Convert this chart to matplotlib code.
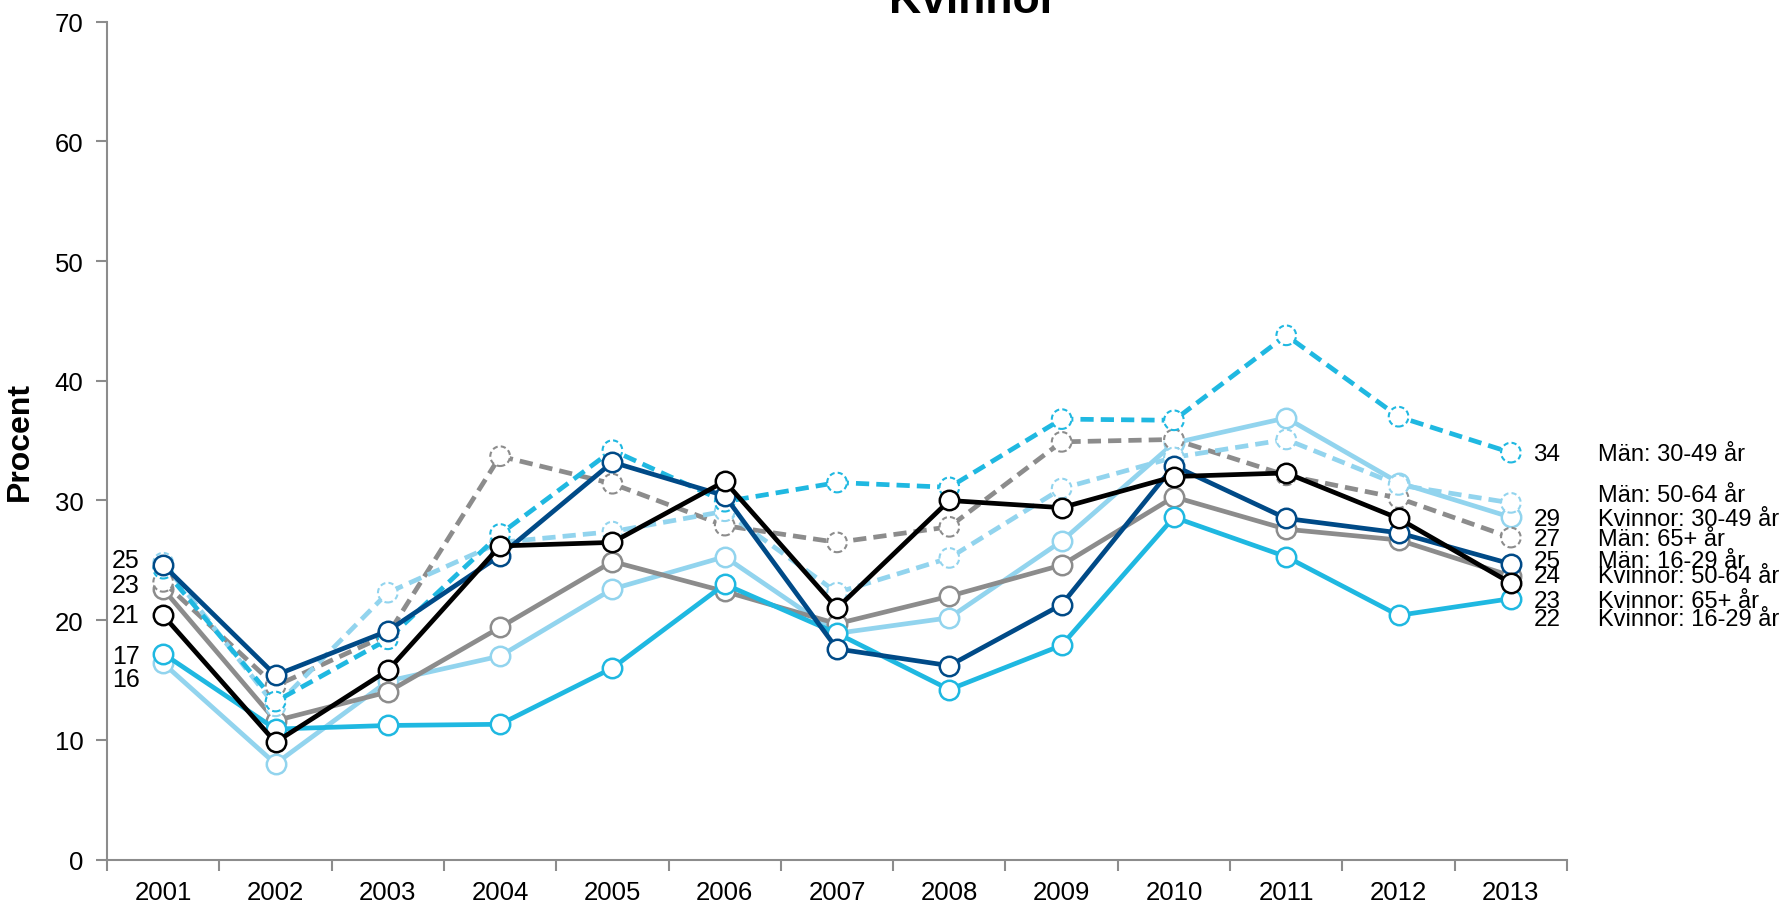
import matplotlib
matplotlib.use("Agg")
import matplotlib.pyplot as plt
import numpy as np

plt.rcParams['font.family'] = ['Liberation Sans', 'DejaVu Sans']

years = ["2001", "2002", "2003", "2004", "2005", "2006", "2007",
         "2008", "2009", "2010", "2011", "2012", "2013"]

# Män (dashed apart from 16-29)
man_16_29 = [24.6, 15.4, 19.1, 25.4, 33.2, 30.4, 17.6, 16.2, 21.3, 32.9, 28.5, 27.3, 24.7]
man_30_49 = [24.3, 13.2, 18.4, 27.2, 34.2, 29.9, 31.5, 31.1, 36.8, 36.7, 43.8, 37.0, 34.0]
man_50_64 = [24.8, 12.8, 22.3, 26.5, 27.4, 29.1, 22.3, 25.2, 31.0, 33.6, 35.1, 31.3, 29.8]
man_65 = [23.2, 14.5, 18.8, 33.7, 31.4, 27.9, 26.5, 27.8, 34.9, 35.1, 32.1, 30.2, 26.9]

# Kvinnor
kv_16_29 = [17.2, 10.9, 11.2, 11.3, 16.0, 23.0, 18.9, 14.2, 17.9, 28.6, 25.3, 20.4, 21.8]
kv_30_49 = [16.4, 8.0, 14.9, 17.0, 22.6, 25.3, 18.9, 20.2, 26.6, 34.8, 36.9, 31.5, 28.6]
kv_50_64 = [22.6, 11.6, 14.0, 19.4, 24.9, 22.4, 19.7, 22.0, 24.6, 30.3, 27.6, 26.7, 23.7]
kv_65 = [20.4, 9.8, 15.8, 26.2, 26.5, 31.6, 21.0, 30.0, 29.4, 32.0, 32.3, 28.5, 23.1]

left_values = ["25", "23", "21", "17", "16"]
right_values = ["34", "", "29", "27", "25", "24", "23", "22"]
right_names = ["Män: 30-49 år", "Män: 50-64 år", "Kvinnor: 30-49 år", "Män: 65+ år",
               "Män: 16-29 år", "Kvinnor: 50-64 år", "Kvinnor: 65+ år", "Kvinnor: 16-29 år"]

DARK = "#004A87"
MED = "#1FB8E1"
LIGHT = "#92D4EE"
GRAY = "#8C8C8C"
BLACK = "#000000"

fig = plt.figure(figsize=(17.87, 9.04), dpi=100)
ax = fig.add_axes([0.0599, 0.0481, 0.8170, 0.9267])
x = np.arange(len(years))

LW = 3.4
solid = [(kv_30_49, LIGHT), (kv_50_64, GRAY), (kv_16_29, MED)]
for vals, col in solid:
    ax.plot(x, vals, color=col, lw=LW, marker='o', ms=14, mfc='white', mec=col, mew=1.8, zorder=2)

dashed = [(man_65, GRAY), (man_50_64, LIGHT), (man_30_49, MED)]
for vals, col in dashed:
    ax.plot(x, vals, color=col, lw=LW, ls=(0, (2.8, 1.5)), zorder=3)
    ax.scatter(x, vals, s=200, facecolors='white', edgecolors=col, linewidths=1.5,
               linestyles=(0, (2.5, 1.5)), zorder=3.5)

for vals, col in [(man_16_29, DARK), (kv_65, BLACK)]:
    ax.plot(x, vals, color=col, lw=LW, marker='o', ms=14, mfc='white', mec=col, mew=1.8, zorder=4)

ax.set_xlim(-0.5, 12.5)
ax.set_ylim(0, 70)
ax.set_yticks(range(0, 71, 10))
ax.set_xticks(np.arange(-0.5, 13, 1))
ax.set_xticklabels([])
ax.set_xticks(x, minor=True)
ax.set_xticklabels(years, minor=True)
ax.tick_params(axis='x', which='minor', length=0, pad=15, labelsize=18.5)
ax.tick_params(axis='x', which='major', length=8, width=1.5, color=GRAY)
ax.tick_params(axis='y', length=8, width=1.5, color=GRAY, labelsize=18.5, pad=9)
for s in ['top', 'right']:
    ax.spines[s].set_visible(False)
for s in ['left', 'bottom']:
    ax.spines[s].set_color(GRAY)
    ax.spines[s].set_linewidth(1.5)

ax.set_ylabel("Procent", fontsize=23, fontweight='bold', labelpad=14)

left_y = [25.0, 22.9, 20.4, 17.0, 15.1]
for txt, yy in zip(left_values, left_y):
    ax.text(-0.21, yy, txt, ha='right', va='center', fontsize=18)

right_y = [33.9, 30.5, 28.45, 26.8, 24.97, 23.7, 21.6, 20.1]
for val, name, yy in zip(right_values, right_names, right_y):
    ax.text(12.2, yy, val, ha='left', va='center', fontsize=17.5, clip_on=False)
    ax.text(12.78, yy, name, ha='left', va='center', fontsize=17, clip_on=False)

fig.text(973 / 1787, 1 - 13 / 904, "Kvinnor", ha='center', va='baseline',
         fontsize=32, fontweight='bold')

fig.savefig("out.png", dpi=100)
